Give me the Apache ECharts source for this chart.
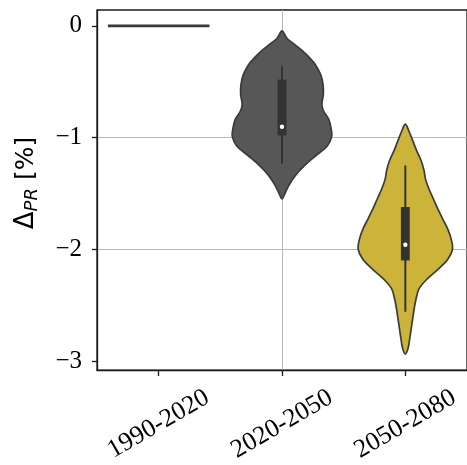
<!DOCTYPE html>
<html><head><meta charset="utf-8">
<script src="https://cdn.jsdelivr.net/npm/echarts@6/dist/echarts.min.js"></script>
<style>html,body{margin:0;padding:0;background:#fff}#c{width:467px;height:465px}</style>
</head><body><div id="c"></div>
<script>
// ---- data ----
const categories = ['1990-2020', '2020-2050', '2050-2080'];
const yTickValues = [-3, -2, -1, 0];

// 1990-2020: all values 0 (zero variance) -> drawn as a flat line
const levels1990 = [0];
const density1990 = [1.03];
const box1990 = [0, 0, 0, 0, 0];

// 2020-2050 density profile (value, relative half-width)
const levels2020 = [-0.045, -0.110, -0.169, -0.229, -0.288, -0.347, -0.436, -0.525, -0.614, -0.703, -0.766, -0.837, -0.926, -0.988, -1.075, -1.164, -1.253, -1.342, -1.431, -1.505, -1.549];
const density2020 = [0, 0.100, 0.265, 0.433, 0.565, 0.678, 0.784, 0.832, 0.838, 0.808, 0.848, 0.948, 0.998, 1.008, 0.918, 0.678, 0.449, 0.265, 0.134, 0.054, 0];
// [lower whisker, q1, median, q3, upper whisker]
const box2020 = [-1.232, -0.980, -0.902, -0.481, -0.362];

// 2050-2080 density profile
const levels2050 = [-0.879, -0.938, -1.027, -1.116, -1.205, -1.294, -1.371, -1.460, -1.549, -1.638, -1.728, -1.817, -1.906, -1.995, -2.084, -2.173, -2.262, -2.351, -2.440, -2.529, -2.618, -2.707, -2.796, -2.885, -2.936];
const density2050 = [0, 0.070, 0.150, 0.229, 0.319, 0.379, 0.409, 0.479, 0.569, 0.658, 0.758, 0.858, 0.928, 0.958, 0.868, 0.678, 0.449, 0.279, 0.219, 0.180, 0.150, 0.120, 0.090, 0.056, 0];
const box2050 = [-2.558, -2.099, -1.959, -1.621, -1.249];

// ---- style ----
const LEVELS = [levels1990, levels2020, levels2050];
const DENS = [density1990, density2020, density2050];
const BOXES = [box1990, box2020, box2050];
const FILLS = ['#3a3a3a', '#575757', '#ccb43b'];
const HALF = 0.4, BOX_HALF = 0.036;
const SERIF = "'Liberation Serif', 'Times New Roman', serif";
const SANS = "'DejaVu Sans', sans-serif";

function renderItem(params, api) {
  const i = params.dataIndex;
  const lv = LEVELS[i], dn = DENS[i], bx = BOXES[i];
  const kids = [];
  if (lv.length === 1) {
    const p1 = api.coord([i - dn[0] * HALF, lv[0]]);
    const p2 = api.coord([i + dn[0] * HALF, lv[0]]);
    kids.push({type: 'line', shape: {x1: p1[0], y1: p1[1], x2: p2[0], y2: p2[1]},
      style: {stroke: '#3a3a3a', lineWidth: 2.6}});
    return {type: 'group', children: kids};
  }
  const pts = [];
  for (let k = 0; k < lv.length; k++) pts.push(api.coord([i + dn[k] * HALF, lv[k]]));
  for (let k = lv.length - 1; k >= 0; k--) {
    if (dn[k] === 0) continue;
    pts.push(api.coord([i - dn[k] * HALF, lv[k]]));
  }
  kids.push({type: 'polygon', shape: {points: pts, smooth: 0.35},
    style: {fill: FILLS[i], stroke: '#3b3b3b', lineWidth: 1.7, lineJoin: 'round'}});
  const w1 = api.coord([i, bx[0]]), w2 = api.coord([i, bx[4]]);
  kids.push({type: 'line', shape: {x1: w1[0], y1: w1[1], x2: w2[0], y2: w2[1]},
    style: {stroke: '#333', lineWidth: 2}});
  const b1 = api.coord([i - BOX_HALF, bx[3]]), b2 = api.coord([i + BOX_HALF, bx[1]]);
  kids.push({type: 'rect', shape: {x: b1[0], y: b1[1], width: b2[0] - b1[0], height: b2[1] - b1[1]},
    style: {fill: '#333'}});
  const m = api.coord([i, bx[2]]);
  kids.push({type: 'circle', shape: {cx: m[0], cy: m[1], r: 2.2}, style: {fill: '#fff'}});
  return {type: 'group', children: kids};
}

const chart = echarts.init(document.getElementById('c'), null, {renderer: 'canvas'});
chart.setOption({
  animation: false,
  backgroundColor: '#fff',
  grid: {left: 97, top: 10, right: -6, bottom: 93, show: true, borderColor: '#1a1a1a', borderWidth: 1.3, backgroundColor: 'transparent'},
  xAxis: {
    type: 'value', min: -0.5, max: 2.5, minInterval: 1, maxInterval: 1,
    axisLine: {show: true, onZero: false, lineStyle: {color: '#1a1a1a', width: 1.3}},
    axisTick: {show: true, length: 6, customValues: [0, 1, 2], lineStyle: {color: '#1a1a1a', width: 1.3}},
    axisLabel: {customValues: [0, 1, 2], formatter: v => categories[Math.round(v)] || '',
      rotate: 30, align: 'center', verticalAlign: 'middle', margin: 54,
      fontFamily: SERIF, fontSize: 26, color: '#000'},
    splitLine: {show: true, showMinLine: false, showMaxLine: false, lineStyle: {color: '#b8b8b8', width: 1}}
  },
  yAxis: {
    type: 'value', min: -3.08, max: 0.1425, minInterval: 1, maxInterval: 1,
    name: '{d|Δ}{s|PR}{b| [%]}', nameLocation: 'middle', nameRotate: 90, nameGap: 56,
    nameTextStyle: {color: '#000', padding: [0, 0, 0, 14], rich: {
      d: {fontFamily: SANS, fontSize: 26, color: '#000'},
      s: {fontFamily: SANS, fontSize: 18, fontStyle: 'italic', color: '#000', padding: [12, 0, 0, 0]},
      b: {fontFamily: SANS, fontSize: 25, color: '#000'}
    }},
    axisLine: {show: true, onZero: false, lineStyle: {color: '#1a1a1a', width: 1.3}},
    axisTick: {show: true, length: 5, customValues: yTickValues, lineStyle: {color: '#1a1a1a', width: 1.3}},
    axisLabel: {customValues: yTickValues, formatter: v => v < 0 ? '\u2212' + Math.abs(v) : String(v),
      margin: 15, fontFamily: SERIF, fontSize: 25, color: '#000'},
    splitLine: {show: true, showMinLine: false, showMaxLine: false, lineStyle: {color: '#b8b8b8', width: 1}}
  },
  series: [{
    type: 'custom',
    renderItem: renderItem,
    encode: {x: 0, y: 1},
    data: categories.map((c, i) => [i, 0]),
    z: 5
  }]
});
</script>
</body></html>
